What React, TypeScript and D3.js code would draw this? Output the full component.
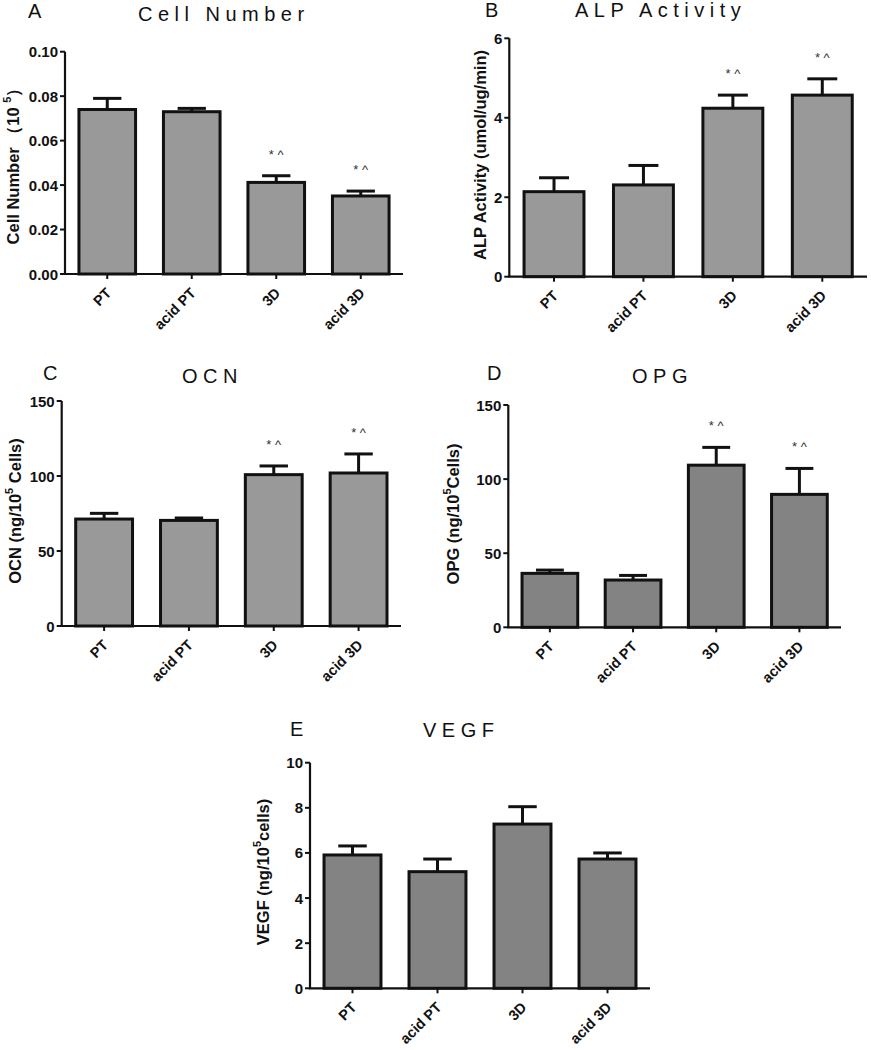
import React from "react";
import * as d3 from "d3";

// ---------- DATA ----------
const categories = ["PT", "acid PT", "3D", "acid 3D"];

const cellNumberMeans = [0.074, 0.073, 0.0412, 0.0351];
const cellNumberErrors = [0.005, 0.0015, 0.003, 0.0022];
const cellNumberTicks = [0, 0.02, 0.04, 0.06, 0.08, 0.1];

const alpMeans = [2.14, 2.31, 4.24, 4.57];
const alpErrors = [0.35, 0.49, 0.33, 0.41];
const alpTicks = [0, 2, 4, 6];

const ocnMeans = [71.3, 70.4, 100.9, 102];
const ocnErrors = [3.8, 1.6, 5.8, 12.7];
const ocnTicks = [0, 50, 100, 150];

const opgMeans = [36.4, 31.9, 109.4, 89.7];
const opgErrors = [2.2, 3.1, 12, 17.5];
const opgTicks = [0, 50, 100, 150];

const vegfMeans = [5.91, 5.17, 7.28, 5.73];
const vegfErrors = [0.4, 0.56, 0.77, 0.27];
const vegfTicks = [0, 2, 4, 6, 8, 10];

const sigMarks = ["", "", "* ^", "* ^"];
const noMarks = ["", "", "", ""];

const FONT = "'Liberation Sans', Arial, Helvetica, sans-serif";

type PanelProps = {
  letter: string;
  letterX: number;
  letterY: number;
  title: string;
  titleX: number;
  titleY: number;
  yLabel: React.ReactNode;
  yLabelX: number;
  yLabelY: number;
  x0: number;
  x1: number;
  yTop: number;
  yBottom: number;
  ticks: number[];
  fmt: (v: number) => string;
  means: number[];
  errors: number[];
  marks: string[];
  fill: string;
};

function Panel(p: PanelProps) {
  const x = d3
    .scaleBand<string>()
    .domain(categories)
    .range([p.x0, p.x1])
    .paddingInner(0.33)
    .paddingOuter(0.165);
  const y = d3
    .scaleLinear()
    .domain([0, p.ticks[p.ticks.length - 1]])
    .range([p.yBottom, p.yTop]);
  const bw = x.bandwidth();
  const capW = bw * 0.5;

  return (
    <g fontFamily={FONT}>
      <text x={p.letterX} y={p.letterY} fontSize={20} fill="#111">
        {p.letter}
      </text>
      <text
        x={p.titleX}
        y={p.titleY}
        fontSize={20}
        letterSpacing={5.5}
        fill="#111"
      >
        {p.title}
      </text>
      <text
        transform={`translate(${p.yLabelX},${p.yLabelY}) rotate(-90)`}
        textAnchor="middle"
        dominantBaseline="central"
        fontSize={16.5}
        fontWeight="bold"
        fill="#111"
      >
        {p.yLabel}
      </text>

      {/* bars */}
      {categories.map((c, i) => {
        const top = y(p.means[i]);
        const errTop = y(p.means[i] + p.errors[i]);
        const cx = (x(c) as number) + bw / 2;
        return (
          <g key={c}>
            <line
              x1={cx}
              x2={cx}
              y1={top}
              y2={errTop}
              stroke="#111"
              strokeWidth={3}
            />
            <line
              x1={cx - capW / 2}
              x2={cx + capW / 2}
              y1={errTop}
              y2={errTop}
              stroke="#111"
              strokeWidth={3}
            />
            <rect
              x={x(c) as number}
              y={top}
              width={bw}
              height={p.yBottom - top}
              fill={p.fill}
              stroke="#111"
              strokeWidth={3}
            />
            {p.marks[i] ? (
              <text
                x={cx}
                y={errTop - 17}
                textAnchor="middle"
                fontSize={13}
                fill="#333"
              >
                {p.marks[i]}
              </text>
            ) : null}
          </g>
        );
      })}

      {/* y axis */}
      <line
        x1={p.x0}
        x2={p.x0}
        y1={p.yTop}
        y2={p.yBottom}
        stroke="#111"
        strokeWidth={2.2}
      />
      {p.ticks.map((t) => (
        <g key={t}>
          <line
            x1={p.x0 - 5}
            x2={p.x0}
            y1={y(t)}
            y2={y(t)}
            stroke="#111"
            strokeWidth={2}
          />
          <text
            x={p.x0 - 7}
            y={y(t)}
            textAnchor="end"
            dominantBaseline="central"
            fontSize={15}
            fontWeight="bold"
            fill="#111"
          >
            {p.fmt(t)}
          </text>
        </g>
      ))}

      {/* x axis */}
      <line
        x1={p.x0 - 1}
        x2={p.x1}
        y1={p.yBottom}
        y2={p.yBottom}
        stroke="#111"
        strokeWidth={2.2}
      />
      {categories.map((c) => {
        const cx = (x(c) as number) + bw / 2;
        return (
          <g key={c}>
            <line
              x1={cx}
              x2={cx}
              y1={p.yBottom}
              y2={p.yBottom + 5}
              stroke="#111"
              strokeWidth={2}
            />
            <text
              transform={`translate(${cx + 5},${p.yBottom + 20}) rotate(-45)`}
              textAnchor="end"
              fontSize={14.5}
              fontWeight="bold"
              fill="#111"
            >
              {c}
            </text>
          </g>
        );
      })}
    </g>
  );
}

const sup = (s: string) => (
  <tspan baselineShift="super" fontSize={11}>
    {s}
  </tspan>
);

export default function App() {
  const f2 = d3.format(".2f");
  const f0 = d3.format("d");
  return (
    <svg
      width={871}
      height={1050}
      style={{ position: "absolute", left: 0, top: 0, background: "#fff" }}
    >
      <rect x={0} y={0} width={871} height={1050} fill="#fff" />
      <Panel
        letter="A"
        letterX={28}
        letterY={18}
        title="Cell Number"
        titleX={138}
        titleY={21}
        yLabel={
          <>
            {"Cell Number （10 "}
            {sup("5")}
            {"）"}
          </>
        }
        yLabelX={13}
        yLabelY={162}
        x0={65}
        x1={403}
        yTop={51.7}
        yBottom={274}
        ticks={cellNumberTicks}
        fmt={f2}
        means={cellNumberMeans}
        errors={cellNumberErrors}
        marks={sigMarks}
        fill="#999999"
      />
      <Panel
        letter="B"
        letterX={485}
        letterY={17}
        title="ALP Activity"
        titleX={575}
        titleY={17}
        yLabel="ALP Activity (umol/ug/min)"
        yLabelX={480}
        yLabelY={155}
        x0={509.3}
        x1={867}
        yTop={38.3}
        yBottom={276.7}
        ticks={alpTicks}
        fmt={f0}
        means={alpMeans}
        errors={alpErrors}
        marks={sigMarks}
        fill="#999999"
      />
      <Panel
        letter="C"
        letterX={43}
        letterY={380}
        title="OCN"
        titleX={182}
        titleY={383}
        yLabel={
          <>
            {"OCN (ng/10"}
            {sup("5")}
            {" Cells)"}
          </>
        }
        yLabelX={15}
        yLabelY={511}
        x0={61.7}
        x1={401}
        yTop={401}
        yBottom={626}
        ticks={ocnTicks}
        fmt={f0}
        means={ocnMeans}
        errors={ocnErrors}
        marks={sigMarks}
        fill="#999999"
      />
      <Panel
        letter="D"
        letterX={487}
        letterY={380}
        title="OPG"
        titleX={632}
        titleY={383}
        yLabel={
          <>
            {"OPG (ng/10"}
            {sup("5")}
            {"Cells)"}
          </>
        }
        yLabelX={453}
        yLabelY={514}
        x0={508.3}
        x1={841}
        yTop={405}
        yBottom={627.3}
        ticks={opgTicks}
        fmt={f0}
        means={opgMeans}
        errors={opgErrors}
        marks={sigMarks}
        fill="#838383"
      />
      <Panel
        letter="E"
        letterX={290}
        letterY={736}
        title="VEGF"
        titleX={423}
        titleY={737}
        yLabel={
          <>
            {"VEGF (ng/10"}
            {sup("5")}
            {"cells)"}
          </>
        }
        yLabelX={263}
        yLabelY={872}
        x0={310}
        x1={650}
        yTop={762.7}
        yBottom={988.3}
        ticks={vegfTicks}
        fmt={f0}
        means={vegfMeans}
        errors={vegfErrors}
        marks={noMarks}
        fill="#838383"
      />
    </svg>
  );
}
